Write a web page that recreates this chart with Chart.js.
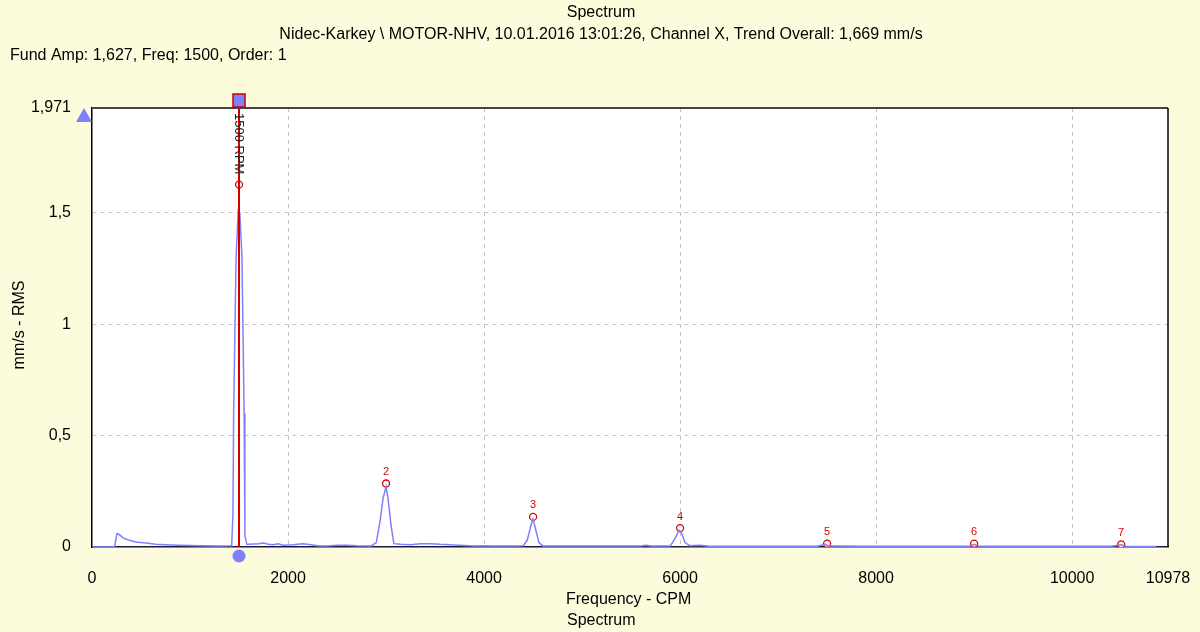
<!DOCTYPE html>
<html>
<head>
<meta charset="utf-8">
<script src="https://cdn.jsdelivr.net/npm/chart.js@4.4.1/dist/chart.umd.min.js"></script>
<style>
  html, body { margin: 0; padding: 0; background: #fcfcdc; }
  canvas { display: block; }
</style>
</head>
<body>
<canvas id="spectrumChart" width="1200" height="632"></canvas>
<script>
// spectrum (CPM, mm/s RMS)
const freq = [0, 200, 230, 255, 280, 320, 380, 450, 550, 650, 750, 900, 1100, 1300, 1425, 1438, 1445, 1470, 1492, 1508, 1530, 1552, 1560, 1580,
  1600, 1700, 1750, 1800, 1850, 1900, 1950, 2050, 2150, 2200, 2300, 2400, 2500, 2600, 2700, 2850, 2900, 2940, 2970, 3000, 3020, 3050, 3080,
  3150, 3250, 3350, 3450, 3550, 3650, 3750, 3900, 4000, 4100, 4300, 4400, 4440, 4480, 4500, 4520, 4560, 4600, 5000, 5600, 5650, 5700,
  5900, 5950, 5990, 6010, 6050, 6100, 6200, 6300, 7000, 7400, 7480, 7520, 8000, 8950, 9000, 9050, 10400, 10500, 10550, 10860];
const amp = [0, 0, 0.002, 0.06, 0.055, 0.04, 0.03, 0.022, 0.018, 0.012, 0.01, 0.008, 0.006, 0.005, 0.006, 0.15, 0.6, 1.3, 1.51, 1.5, 1.3, 0.6, 0.05, 0.012,
  0.012, 0.015, 0.018, 0.012, 0.01, 0.014, 0.008, 0.01, 0.015, 0.012, 0.006, 0.005, 0.008, 0.008, 0.006, 0.005, 0.02, 0.12, 0.22, 0.27, 0.22, 0.1, 0.015,
  0.012, 0.01, 0.015, 0.015, 0.012, 0.01, 0.008, 0.005, 0.006, 0.004, 0.004, 0.006, 0.03, 0.1, 0.125, 0.09, 0.02, 0.005, 0.004, 0.004, 0.008, 0.004,
  0.005, 0.04, 0.075, 0.07, 0.02, 0.006, 0.008, 0.003, 0.003, 0.003, 0.012, 0.004, 0.003, 0.003, 0.012, 0.003, 0.003, 0.01, 0.003, 0.002];

// harmonic orders of running speed
const orders = [1, 2, 3, 4, 5, 6, 7];
const orderFreq = [1500, 3000, 4500, 6000, 7500, 9000, 10500];
const orderAmp = [1.627, 0.285, 0.135, 0.085, 0.015, 0.015, 0.012];

const xTicks = [0, 2000, 4000, 6000, 8000, 10000, 10978];
const yTicks = [0, 0.5, 1, 1.5, 1.971];
const xMax = 10978, yMax = 1.971;

const FONT = "'Liberation Sans', Arial, sans-serif";

const decorations = {
    id: 'decorations',
    beforeDraw(chart) {
        const { ctx, chartArea: a } = chart;
        ctx.save();
        ctx.fillStyle = '#fff';
        ctx.fillRect(a.left, a.top, a.right - a.left, a.bottom - a.top);
        ctx.restore();
    },
    afterDatasetDraw(chart, args) {
        if (args.index !== 0) return;
        const { ctx, chartArea: a, scales } = chart;
        const x = Math.round(scales.x.getPixelForValue(orderFreq[0]));
        ctx.save();
        ctx.strokeStyle = '#d40000';
        ctx.lineWidth = 2;
        ctx.beginPath();
        ctx.moveTo(x, a.top - 8);
        ctx.lineTo(x, a.bottom);
        ctx.stroke();
        ctx.restore();
    },
    afterDraw(chart) {
        const { ctx, chartArea: a, scales } = chart;
        ctx.save();
        // frame
        ctx.strokeStyle = '#444';
        ctx.lineWidth = 2;
        ctx.beginPath();
        ctx.moveTo(a.left, a.top);
        ctx.lineTo(a.right, a.top);
        ctx.stroke();
        ctx.strokeStyle = '#000';
        ctx.lineWidth = 1.5;
        ctx.beginPath();
        ctx.moveTo(a.right, a.top);
        ctx.lineTo(a.right, a.bottom);
        ctx.stroke();

        const x = scales.x.getPixelForValue(orderFreq[0]);
        // cursor square
        ctx.fillStyle = '#8080ff';
        ctx.strokeStyle = '#cc0000';
        ctx.lineWidth = 1.5;
        ctx.fillRect(x - 6, a.top - 14, 12, 13);
        ctx.strokeRect(x - 6, a.top - 14, 12, 13);
        // cursor dot under axis
        ctx.beginPath();
        ctx.arc(x, a.bottom + 9, 6.5, 0, Math.PI * 2);
        ctx.fill();
        // max marker triangle
        ctx.beginPath();
        ctx.moveTo(a.left - 8, a.top);
        ctx.lineTo(a.left, a.top + 14);
        ctx.lineTo(a.left - 16, a.top + 14);
        ctx.closePath();
        ctx.fill();

        // rpm label
        ctx.save();
        ctx.translate(x, a.top + 5);
        ctx.rotate(Math.PI / 2);
        ctx.fillStyle = '#222';
        ctx.font = '13px ' + FONT;
        ctx.textAlign = 'left';
        ctx.textBaseline = 'middle';
        ctx.fillText('1500 RPM', 0, 0);
        ctx.restore();

        // harmonic numbers
        ctx.fillStyle = '#dd0000';
        ctx.font = '11px ' + FONT;
        ctx.textAlign = 'center';
        ctx.textBaseline = 'bottom';
        for (let i = 1; i < orders.length; i++) {
            ctx.fillText(String(orders[i]), scales.x.getPixelForValue(orderFreq[i]),
                scales.y.getPixelForValue(orderAmp[i]) - 6);
        }

        // titles
        ctx.fillStyle = '#000';
        ctx.font = '16px ' + FONT;
        ctx.textBaseline = 'middle';
        ctx.textAlign = 'center';
        ctx.fillText('Spectrum', 601, 13);
        ctx.fillText('Nidec-Karkey \\ MOTOR-NHV, 10.01.2016 13:01:26, Channel X, Trend Overall: 1,669 mm/s', 601, 35);
        ctx.textAlign = 'left';
        ctx.fillText('Fund Amp: 1,627, Freq: 1500, Order: 1', 10, 56);
        ctx.fillText('Frequency - CPM', 566, 600);
        ctx.fillText('Spectrum', 567, 621);
        ctx.save();
        ctx.translate(20, 325);
        ctx.rotate(-Math.PI / 2);
        ctx.textAlign = 'center';
        ctx.fillText('mm/s - RMS', 0, 0);
        ctx.restore();
        ctx.restore();
    }
};

const gridColor = (max) => (c) => (c.tick && (c.tick.value === 0 || c.tick.value === max)) ? 'rgba(0,0,0,0)' : '#c4c4c4';

const ctx = document.getElementById('spectrumChart').getContext('2d');
const spectrumChart = new Chart(ctx, {
    type: 'line',
    data: {
        datasets: [
            {
                label: 'Spectrum',
                data: freq.map((f, i) => ({ x: f, y: amp[i] })),
                borderColor: '#8080ff',
                borderWidth: 1.5,
                pointRadius: 0,
                tension: 0,
                fill: false,
            },
            {
                label: 'Orders',
                data: orderFreq.map((f, i) => ({ x: f, y: orderAmp[i] })),
                showLine: false,
                pointStyle: 'circle',
                pointRadius: 3.5,
                pointBackgroundColor: '#fff',
                pointBorderColor: '#dd0000',
                pointBorderWidth: 1.3,
            },
        ],
    },
    options: {
        responsive: false,
        animation: false,
        layout: { padding: { top: 108, right: 32, left: 0, bottom: 0 } },
        plugins: {
            legend: { display: false },
            tooltip: { enabled: false },
        },
        scales: {
            x: {
                type: 'linear',
                min: 0,
                max: xMax,
                afterBuildTicks: (s) => { s.ticks = xTicks.map(v => ({ value: v })); },
                afterFit: (s) => { s.height = 85; s.paddingLeft = 0; s.paddingRight = 0; },
                ticks: {
                    autoSkip: false,
                    maxRotation: 0,
                    padding: 22,
                    color: '#000',
                    font: { size: 16, family: FONT },
                    callback: (v) => String(v),
                },
                grid: { color: gridColor(xMax), drawTicks: false, lineWidth: 1 },
                border: { color: '#1a1a40', width: 1.5, dash: [4, 4] },
            },
            y: {
                min: 0,
                max: yMax,
                afterBuildTicks: (s) => { s.ticks = yTicks.map(v => ({ value: v })); },
                afterFit: (s) => { s.width = 92; s.paddingTop = 0; s.paddingBottom = 0; },
                ticks: {
                    autoSkip: false,
                    padding: 21,
                    color: '#000',
                    font: { size: 16, family: FONT },
                    callback: (v) => String(v).replace('.', ','),
                },
                grid: { color: gridColor(yMax), drawTicks: false, lineWidth: 1 },
                border: { color: '#000', width: 1.5, dash: [4, 4] },
            },
        },
    },
    plugins: [decorations],
});
</script>
</body>
</html>
